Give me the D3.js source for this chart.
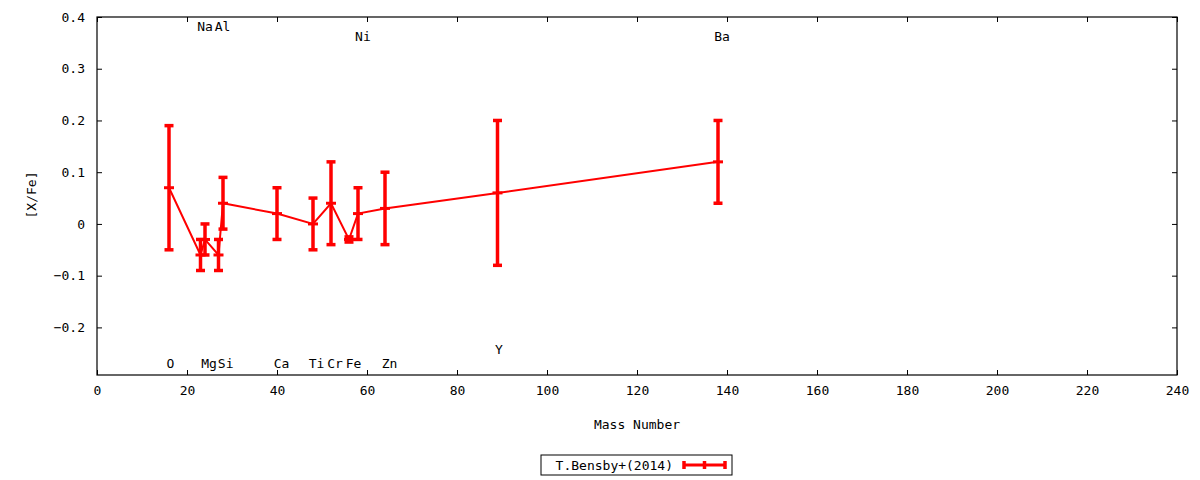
<!DOCTYPE html>
<html>
<head>
<meta charset="utf-8">
<script src="https://cdn.jsdelivr.net/npm/d3@7"></script>
<style>
  html, body { margin: 0; padding: 0; background: #fff; }
  text { font-family: "DejaVu Sans Mono", monospace; font-size: 13px; fill: #000; }
</style>
</head>
<body>
<svg id="chart" width="1200" height="480"></svg>
<script>
// ---- data ----
const masses = [16, 23, 24, 27, 28, 40, 48, 52, 56, 58, 64, 89, 138];
const values = [0.07, -0.06, -0.03, -0.06, 0.04, 0.02, 0.00, 0.04, -0.03, 0.02, 0.03, 0.06, 0.12];
const errors = [0.12, 0.03, 0.03, 0.03, 0.05, 0.05, 0.05, 0.08, 0.005, 0.05, 0.07, 0.14, 0.08];

const labelNames = ["O", "Na", "Mg", "Al", "Si", "Ca", "Ti", "Cr", "Fe", "Ni", "Zn", "Y", "Ba"];
const labelMass  = [16.3, 24.0, 24.9, 27.9, 28.6, 41.0, 48.8, 52.9, 57.0, 59.1, 65.0, 89.3, 138.9];
const labelLevel = [-0.27, 0.382, -0.27, 0.382, -0.27, -0.27, -0.27, -0.27, -0.27, 0.362, -0.27, -0.243, 0.362];

const xTicks = [0, 20, 40, 60, 80, 100, 120, 140, 160, 180, 200, 220, 240];
const yTicks = [-0.2, -0.1, 0, 0.1, 0.2, 0.3, 0.4];
const seriesName = "T.Bensby+(2014)";

// ---- layout ----
const pL = 97, pR = 1177, pT = 17, pB = 375;
const red = "#ff0000";
const svg = d3.select("#chart");

const x = d3.scaleLinear().domain([0, 240]).range([pL, pR]);
const y = d3.scaleLinear().domain([-0.292, 0.4]).range([pB, pT]);

// axes (ticks inside, mirrored)
const fmtY = d => d === 0 ? "0" : d3.format(".1f")(d);
const axB = svg.append("g").attr("transform", `translate(0,${pB})`)
  .call(d3.axisBottom(x).tickValues(xTicks).tickSizeInner(-5).tickSizeOuter(0).tickPadding(11).tickFormat(d3.format("d")));
const axT = svg.append("g").attr("transform", `translate(0,${pT})`)
  .call(d3.axisTop(x).tickValues(xTicks).tickSizeInner(-5).tickSizeOuter(0).tickFormat(""));
const axL = svg.append("g").attr("transform", `translate(${pL},0)`)
  .call(d3.axisLeft(y).tickValues(yTicks).tickSizeInner(-5).tickSizeOuter(0).tickPadding(12).tickFormat(fmtY));
const axR = svg.append("g").attr("transform", `translate(${pR},0)`)
  .call(d3.axisRight(y).tickValues(yTicks).tickSizeInner(-5).tickSizeOuter(0).tickFormat(""));
[axB, axT, axL, axR].forEach(a => {
  a.select(".domain").remove();
  a.selectAll("line").attr("stroke", "#000").attr("stroke-width", 1);
  a.selectAll("text").attr("font-family", "DejaVu Sans Mono").attr("font-size", 13).attr("fill", "#000");
});
axL.selectAll("text").attr("dy", "0.32em");

// frame
svg.append("rect").attr("x", pL).attr("y", pT)
  .attr("width", pR - pL).attr("height", pB - pT)
  .attr("fill", "none").attr("stroke", "#000").attr("stroke-width", 1.2);

// axis titles
svg.append("text").attr("x", (pL + pR) / 2).attr("y", 429).attr("text-anchor", "middle").text("Mass Number");
svg.append("text").attr("transform", `translate(36,${(pT + pB) / 2 - 1}) rotate(-90)`)
  .attr("text-anchor", "middle").text("[X/Fe]");

// data
const data = masses.map((m, i) => ({ m, v: values[i], e: errors[i] }));
const g = svg.append("g");
g.append("path").datum(data)
  .attr("fill", "none").attr("stroke", red).attr("stroke-width", 2)
  .attr("d", d3.line().x(d => x(d.m)).y(d => y(d.v)));

const capW = 9;
g.selectAll(".eb").data(data).join("line")
  .attr("x1", d => x(d.m)).attr("x2", d => x(d.m))
  .attr("y1", d => y(d.v - d.e)).attr("y2", d => y(d.v + d.e))
  .attr("stroke", red).attr("stroke-width", 3.5);
g.selectAll(".capT").data(data).join("line")
  .attr("x1", d => x(d.m) - capW / 2).attr("x2", d => x(d.m) + capW / 2)
  .attr("y1", d => y(d.v + d.e)).attr("y2", d => y(d.v + d.e))
  .attr("stroke", red).attr("stroke-width", 3.5);
g.selectAll(".capB").data(data).join("line")
  .attr("x1", d => x(d.m) - capW / 2).attr("x2", d => x(d.m) + capW / 2)
  .attr("y1", d => y(d.v - d.e)).attr("y2", d => y(d.v - d.e))
  .attr("stroke", red).attr("stroke-width", 3.5);
g.selectAll(".pt").data(data).join("line")
  .attr("x1", d => x(d.m) - 5).attr("x2", d => x(d.m) + 5)
  .attr("y1", d => y(d.v)).attr("y2", d => y(d.v))
  .attr("stroke", red).attr("stroke-width", 3);

// element labels
svg.append("g").selectAll("text").data(labelNames).join("text")
  .attr("x", (d, i) => x(labelMass[i]))
  .attr("y", (d, i) => y(labelLevel[i]))
  .attr("dy", "0.35em")
  .attr("text-anchor", "middle")
  .text(d => d);

// legend
const lg = svg.append("g");
lg.append("rect").attr("x", 541).attr("y", 455).attr("width", 191).attr("height", 20)
  .attr("fill", "#fff").attr("stroke", "#000").attr("stroke-width", 1);
lg.append("text").attr("x", 673).attr("y", 465).attr("dy", "0.35em").attr("text-anchor", "end").text(seriesName);
const lx1 = 684, lx2 = 725, ly = 465;
lg.append("line").attr("x1", lx1).attr("x2", lx2).attr("y1", ly).attr("y2", ly).attr("stroke", red).attr("stroke-width", 3);
[lx1, (lx1 + lx2) / 2, lx2].forEach(px => {
  lg.append("line").attr("x1", px).attr("x2", px).attr("y1", ly - 4).attr("y2", ly + 4)
    .attr("stroke", red).attr("stroke-width", 3.5);
});
</script>
</body>
</html>
